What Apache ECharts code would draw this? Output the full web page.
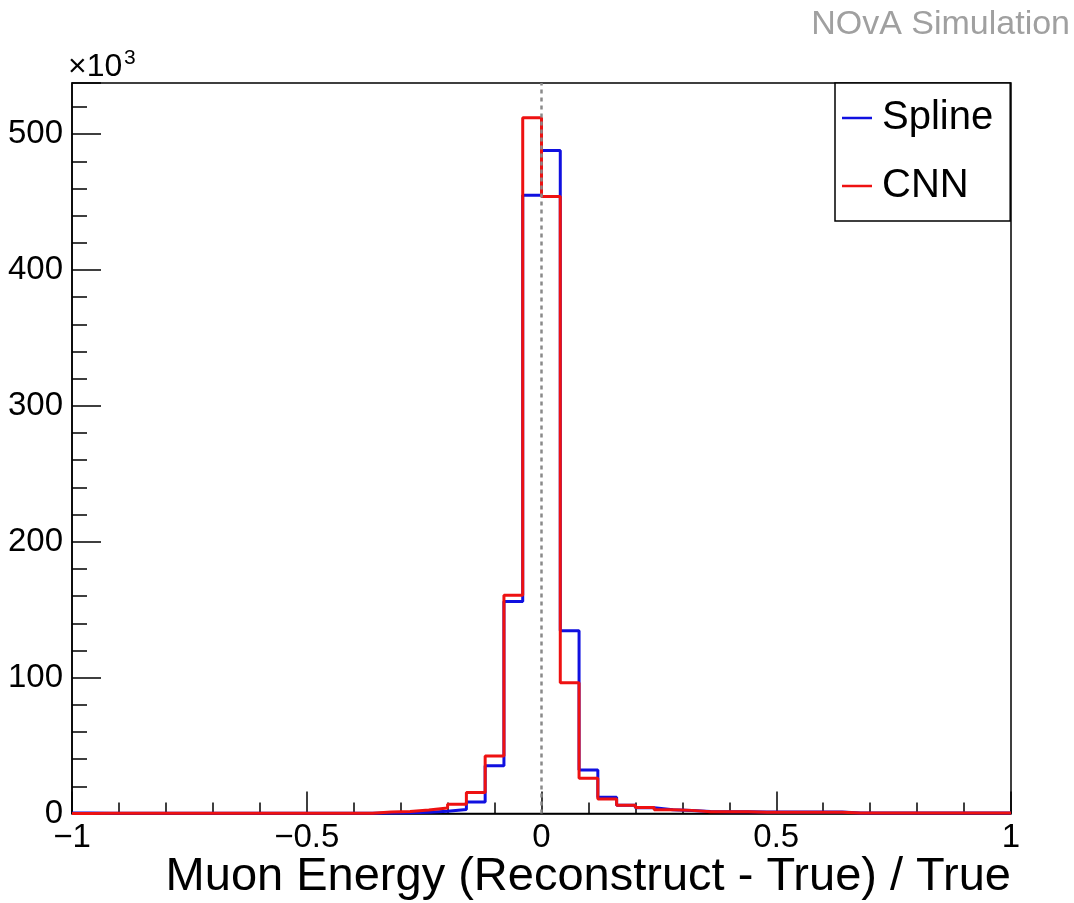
<!DOCTYPE html>
<html>
<head>
<meta charset="utf-8">
<script src="https://cdn.jsdelivr.net/npm/echarts@6/dist/echarts.min.js"></script>
<style>html,body{margin:0;padding:0;background:#fff}#c{width:1074px;height:903px}</style>
</head>
<body>
<div id="c"></div>
<script>
// Bin left edges (bin width 0.04) from -1 to 1, plus final right edge
const binEdges = [-1.00,-0.96,-0.92,-0.88,-0.84,-0.80,-0.76,-0.72,-0.68,-0.64,
  -0.60,-0.56,-0.52,-0.48,-0.44,-0.40,-0.36,-0.32,-0.28,-0.24,
  -0.20,-0.16,-0.12,-0.08,-0.04,0.00,0.04,0.08,0.12,0.16,
  0.20,0.24,0.28,0.32,0.36,0.40,0.44,0.48,0.52,0.56,
  0.60,0.64,0.68,0.72,0.76,0.80,0.84,0.88,0.92,0.96,1.00];
// Counts per bin in units of 10^3
const splineCounts = [0.3,0.1,0.1,0.1,0.1,0.1,0.1,0.1,0.1,0.1,
  0.1,0.1,0.1,0.1,0.1,0.1,0.4,0.6,1.0,1.6,
  3.0,8.5,35.2,156,455,488,134.5,32,12,6,
  4.2,2.8,2.2,1.4,1.3,1.2,1.1,1.1,1.1,1.1,
  1.1,0.3,0.3,0.3,0.3,0.3,0.3,0.3,0.3,0.3];
const cnnCounts = [0.0,0.2,0.2,0.2,0.2,0.2,0.2,0.2,0.2,0.2,
  0.2,0.2,0.2,0.2,0.2,0.2,1.1,1.5,2.6,4.0,
  6.8,15.5,42.3,160.7,512,454,96.3,26,10.7,6,
  4.4,2.8,2.3,1.3,1.3,1.3,1.0,1.0,1.0,1.0,
  1.0,0.3,0.3,0.3,0.3,0.3,0.3,0.3,0.3,0.3];
const xTicks = [-1, -0.5, 0, 0.5, 1];
const yTicks = [0, 100, 200, 300, 400, 500];

function stepData(counts){
  const d = counts.map((v,i)=>[binEdges[i], v]);
  d.push([binEdges[binEdges.length-1], counts[counts.length-1]]);
  return d;
}
const FONT = '"Liberation Sans", Arial, Helvetica, sans-serif';
const chart = echarts.init(document.getElementById('c'), null, {renderer:'canvas'});
chart.setOption({
  animation:false,
  backgroundColor:'#fff',
  grid:{left:72,right:63,top:83,bottom:89.5,show:true,borderColor:'#000',borderWidth:1.5,backgroundColor:'transparent'},
  xAxis:{type:'value',min:-1,max:1,interval:0.5,
    axisLine:{show:true,onZero:false,lineStyle:{color:'#000',width:1.5}},
    axisTick:{inside:true,length:22,lineStyle:{color:'#000',width:1.5}},
    minorTick:{show:true,splitNumber:5,length:11,lineStyle:{color:'#000',width:1.5}},
    splitLine:{show:false},
    axisLabel:{margin:8,fontSize:33,color:'#000',fontFamily:FONT,
      formatter:v=>xTicks.indexOf(v)>=0?String(v).replace('-','\u2212'):''}
  },
  yAxis:{type:'value',min:0,max:537.6,interval:100,
    axisLine:{show:true,onZero:false,lineStyle:{color:'#000',width:1.5}},
    axisTick:{inside:true,length:29,lineStyle:{color:'#000',width:1.5}},
    minorTick:{show:true,splitNumber:5,length:15,lineStyle:{color:'#000',width:1.5}},
    splitLine:{show:false},
    axisLabel:{margin:9,fontSize:33,color:'#000',fontFamily:FONT,showMaxLabel:false,
      formatter:v=>yTicks.indexOf(v)>=0?String(v):''}
  },
  legend:{orient:'vertical',left:835,top:83,icon:'rect',itemWidth:30,itemHeight:2.5,itemGap:26,
    padding:[14,17,14,7],borderColor:'#000',borderWidth:1.5,backgroundColor:'#fff',
    textStyle:{fontSize:40,lineHeight:42,color:'#000',fontFamily:FONT,padding:[0,0,0,5]},
    data:['Spline','CNN']},
  series:[
    {name:'Spline',type:'line',step:'end',symbol:'none',data:stepData(splineCounts),
      itemStyle:{color:'#1010e0'},lineStyle:{color:'#1010e0',width:3},z:2,
      markLine:{silent:true,symbol:'none',label:{show:false},
        lineStyle:{color:'#8a8a8a',type:[4,4],width:2.5},data:[{xAxis:0}]}},
    {name:'CNN',type:'line',step:'end',symbol:'none',data:stepData(cnnCounts),
      itemStyle:{color:'#ee1111'},lineStyle:{color:'#ee1111',width:3},z:3}
  ],
  graphic:[
    {type:'text',right:1074-1011,top:854,style:{text:'Muon Energy (Reconstruct - True) / True',fontSize:47,fill:'#000',fontFamily:FONT}},
    {type:'text',right:4,top:8,style:{text:'NOvA Simulation',fontSize:34,fill:'#a0a0a0',fontFamily:FONT}},
    {type:'text',left:68,top:51,style:{text:'\u00d710',fontSize:32,fill:'#000',fontFamily:FONT}},
    {type:'text',left:124,top:48,style:{text:'3',fontSize:21,fill:'#000',fontFamily:FONT}}
  ]
});
</script>
</body>
</html>
